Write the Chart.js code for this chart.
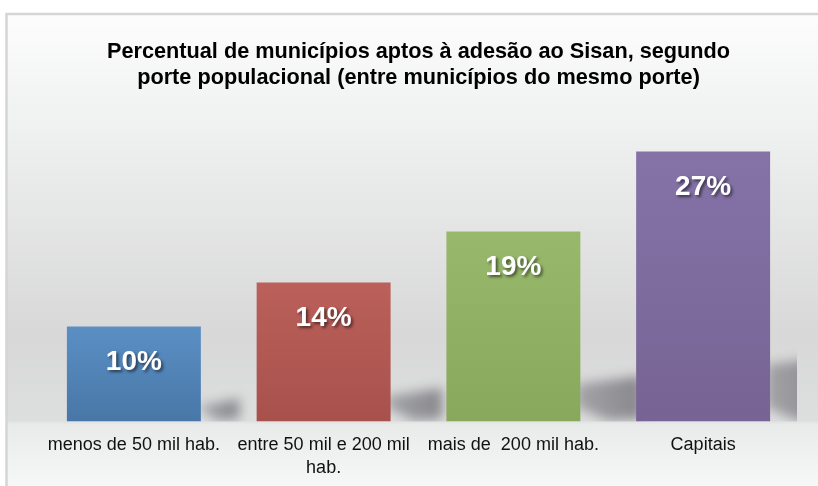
<!DOCTYPE html>
<html><head><meta charset="utf-8">
<script src="https://cdn.jsdelivr.net/npm/chart.js@4.4.1/dist/chart.umd.min.js"></script>
<style>html,body{margin:0;padding:0;background:#fff;} #wrap{width:818px;height:486px;position:relative;}</style>
</head><body><div id="wrap"><canvas id="c"></canvas></div>
<script>
const titleLines = ['Percentual de municípios aptos à adesão ao Sisan, segundo', 'porte populacional (entre municípios do mesmo porte)'];
const categories = [['menos de 50 mil hab.'], ['entre 50 mil e 200 mil', 'hab.'], ['mais de  200 mil hab.'], ['Capitais']];
const values = [9.5, 13.9, 19.0, 27.0];
const barTopColors = ['#5b8fc4', '#bb605b', '#98b96c', '#8573a8'];
const barBottomColors = ['#4877a7', '#a8514c', '#88a85c', '#776494'];
const yRange = [0, 30];

const bgPlugin = {
  id: 'bg',
  beforeDraw(chart) {
    const ctx = chart.ctx, W = chart.width, H = chart.height, a = chart.chartArea;
    ctx.save();
    ctx.fillStyle = '#fff';
    ctx.fillRect(0, 0, W, H);
    const g = ctx.createLinearGradient(0, 14, 0, H);
    const f = v => (v - 14) / (H - 14);
    g.addColorStop(0, '#fdfdfd');
    g.addColorStop(f(120), '#f0f1f1');
    g.addColorStop(f(335), '#d8d8d8');
    g.addColorStop(f(a.bottom - 1), '#dddede');
    g.addColorStop(f(a.bottom + 3), '#e9eaea');
    g.addColorStop(1, '#f6f7f7');
    ctx.fillStyle = g;
    ctx.fillRect(7, 14, W - 7, H - 14);
    ctx.strokeStyle = '#d5d5d5';
    ctx.lineWidth = 2.5;
    ctx.beginPath();
    ctx.moveTo(6.5, H); ctx.lineTo(6.5, 14); ctx.lineTo(W, 14);
    ctx.stroke();
    ctx.restore();
  }
};

const shadowPlugin = {
  id: 'barShadows',
  beforeDatasetsDraw(chart) {
    const ctx = chart.ctx, a = chart.chartArea;
    const meta = chart.getDatasetMeta(0);
    ctx.save();
    ctx.beginPath();
    ctx.rect(a.left, a.top, a.right - a.left - 1, a.bottom - a.top);
    ctx.clip();
    ctx.filter = 'blur(6px)';
    meta.data.forEach(bar => {
      const p = bar.getProps(['x', 'y', 'base', 'width'], true);
      const R = p.x + p.width / 2;
      const h = p.base - p.y;
      const w = Math.min(0.3 * h + 10, 62);
      const top = p.base - 0.24 * h;
      const g = ctx.createLinearGradient(R, 0, R + w, 0);
      g.addColorStop(0, 'rgba(115,115,122,0.55)');
      g.addColorStop(1, 'rgba(105,105,112,0.75)');
      ctx.beginPath();
      ctx.moveTo(R - 4, top + 8);
      ctx.lineTo(R + w, top);
      ctx.lineTo(R + w, p.base - 3);
      ctx.lineTo(R + w * 0.45, p.base - 1);
      ctx.lineTo(R - 4, p.base - 14);
      ctx.closePath();
      ctx.fillStyle = g;
      ctx.fill();
    });
    ctx.restore();
  }
};

const labelPlugin = {
  id: 'valueLabels',
  afterDatasetsDraw(chart) {
    const ctx = chart.ctx;
    const meta = chart.getDatasetMeta(0);
    ctx.save();
    ctx.font = 'bold 28px "Liberation Sans", Arial, sans-serif';
    ctx.textAlign = 'center';
    ctx.textBaseline = 'alphabetic';
    ctx.fillStyle = '#ffffff';
    ctx.shadowColor = 'rgba(0,0,0,0.55)';
    ctx.shadowOffsetX = 2;
    ctx.shadowOffsetY = 2;
    ctx.shadowBlur = 3;
    meta.data.forEach((bar, i) => {
      const p = bar.getProps(['x', 'y'], true);
      ctx.fillText(Math.round(values[i]) + '%', p.x, p.y + 43);
    });
    ctx.restore();
  }
};

new Chart(document.getElementById('c'), {
  type: 'bar',
  data: {
    labels: categories,
    datasets: [{
      data: values,
      backgroundColor: (c) => {
        const i = c.dataIndex;
        const chart = c.chart;
        if (!chart.chartArea || i === undefined) return barTopColors[i] || barTopColors[0];
        const yS = chart.scales.y;
        const g = chart.ctx.createLinearGradient(0, yS.getPixelForValue(values[i]), 0, yS.getPixelForValue(0));
        g.addColorStop(0, barTopColors[i]);
        g.addColorStop(1, barBottomColors[i]);
        return g;
      },
      borderWidth: 0,
      categoryPercentage: 1,
      barPercentage: 0.706
    }]
  },
  options: {
    responsive: true,
    maintainAspectRatio: false,
    animation: false,
    devicePixelRatio: 1,
    layout: { padding: { left: 39, right: 20, top: 0, bottom: 0 } },
    plugins: {
      legend: { display: false },
      tooltip: { enabled: false },
      title: {
        display: true,
        text: titleLines,
        color: '#000',
        font: { family: '"Liberation Sans", Arial, sans-serif', size: 21.7, weight: 'bold', lineHeight: 1.2 },
        padding: { top: 39, bottom: 30.5 }
      }
    },
    scales: {
      x: {
        grid: { display: false, drawTicks: false },
        border: { display: false },
        ticks: {
          color: '#111',
          font: { family: '"Liberation Sans", Arial, sans-serif', size: 18, lineHeight: 1.28 },
          padding: 12,
          maxRotation: 0,
          minRotation: 0,
          autoSkip: false
        },
        afterFit: (s) => { s.height = 64.5; }
      },
      y: {
        display: false,
        min: yRange[0],
        max: yRange[1]
      }
    }
  },
  plugins: [bgPlugin, shadowPlugin, labelPlugin]
});
</script>
</body></html>
